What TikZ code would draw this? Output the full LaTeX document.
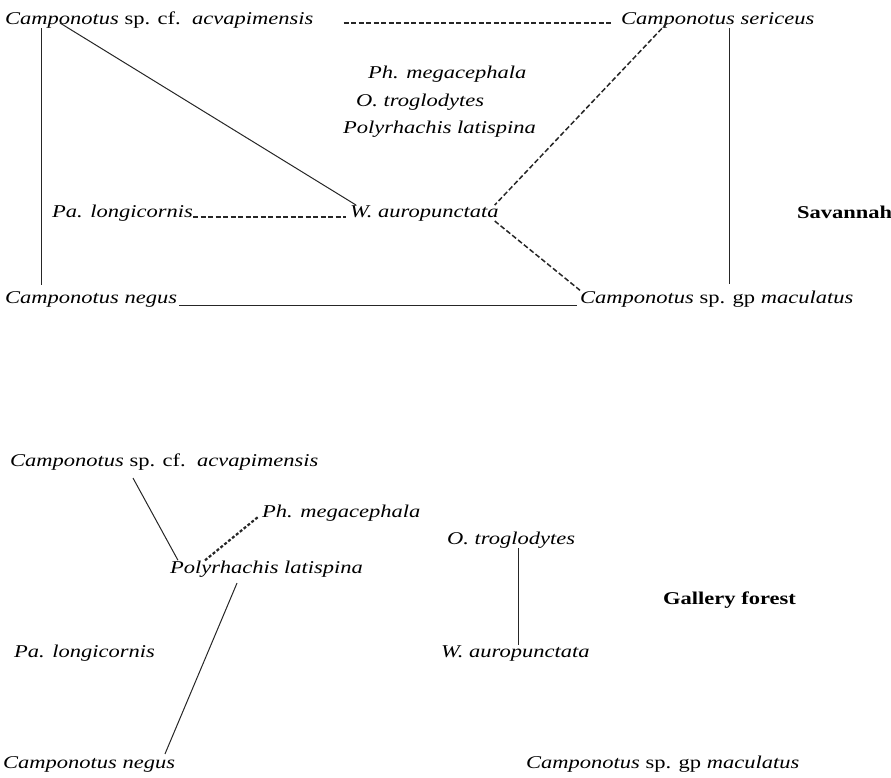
\documentclass[tikz,border=0pt]{standalone}
\usepackage{fontspec}
\setmainfont{Liberation Serif}[FakeStretch=1.25]

\begin{document}
\begin{tikzpicture}[
  x=1pt,y=-1pt,
  font=\fontsize{18}{20}\selectfont\itshape,
  ant/.style={inner sep=0pt,anchor=base west},
  habitat/.style={inner sep=0pt,anchor=base west,
                  font=\fontsize{18}{20}\selectfont\bfseries},
  link/.style={draw=black!85,line width=1pt},
  dashlink/.style={link,line width=1.5pt,dash pattern=on 5pt off 2.5pt},
  dotlink/.style={link,line width=2.2pt,dash pattern=on 3pt off 2pt}
]
\useasboundingbox (0,0) rectangle (891,777);

\node[ant] (sacva) at (5,24) {Camponotus \textup{sp. cf.}\ \ acvapimensis};
\node[ant] (sser) at (621,24) {Camponotus sericeus};
\node[ant] (sph) at (368,78) {Ph. megacephala};
\node[ant] (stro) at (356,106) {O. troglodytes};
\node[ant] (spol) at (343,133) {Polyrhachis latispina};
\node[habitat] (ssav) at (797,218) {Savannah};
\node[ant] (spa) at (52,217) {Pa. longicornis};
\node[ant] (swa) at (350,217) {W. auropunctata};
\node[ant] (sneg) at (5,303) {Camponotus negus};
\node[ant] (smac) at (580,303) {Camponotus \textup{sp. gp} maculatus};

\node[ant] (gacva) at (10,466) {Camponotus \textup{sp. cf.}\ \ acvapimensis};
\node[ant] (gph) at (262,517) {Ph. megacephala};
\node[ant] (gtro) at (447,544) {O. troglodytes};
\node[ant] (gpol) at (170,573) {Polyrhachis latispina};
\node[habitat] (ggal) at (663,604) {Gallery forest};
\node[ant] (gpa) at (14,657) {Pa. longicornis};
\node[ant] (gwa) at (441,657) {W. auropunctata};
\node[ant] (gneg) at (3,768) {Camponotus negus};
\node[ant] (gmac) at (526,768) {Camponotus \textup{sp. gp} maculatus};

\coordinate (rtop) at ([xshift=108pt]sser.south west);
\coordinate (gtop) at ([xshift=71pt]gtro.south west);

\draw[link] ([xshift=36pt]sacva.south west) -- ([xshift=36pt,yshift=6pt]sneg.north west);
\draw[link] ([xshift=55pt,yshift=1pt]sacva.base west) -- ([xshift=6pt]swa.north west);
\draw[dashlink] ([xshift=30pt,yshift=1pt]sacva.base east) -- ([xshift=-8pt,yshift=1pt]sser.base west);
\draw[dashlink] ([xshift=46pt,yshift=1pt]sser.base west) -- ([xshift=-4pt]swa.north east);
\draw[dashlink] ([xshift=-4pt]swa.south east) -- (smac.north west);
\draw[dashlink] (spa.base east) -- ([xshift=-4pt]swa.base west);
\draw[link] ([xshift=2pt,yshift=-2pt]sneg.base east) -- ([xshift=-3pt,yshift=-2pt]smac.base west);
\draw[link] (rtop) -- ([yshift=6pt]rtop |- smac.north);

\draw[link] ([xshift=123pt,yshift=-8pt]gacva.south west) -- ([xshift=8pt]gpol.north west);
\draw[dotlink] ([xshift=35pt]gpol.north west) -- ([xshift=-4pt]gph.base west);
\draw[link] ([xshift=67pt,yshift=-6pt]gpol.south west) -- ([xshift=162pt,yshift=2pt]gneg.north west);
\draw[link] (gtop) -- (gtop |- gwa.north);
\end{tikzpicture}
\end{document}
